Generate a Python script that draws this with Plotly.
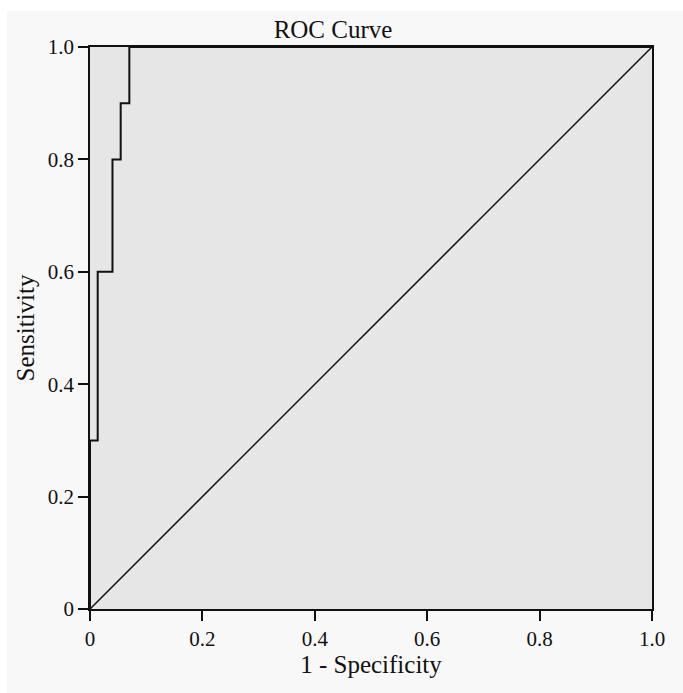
import plotly.graph_objects as go

# ROC curve data (1 - specificity, sensitivity)
fpr = [0.0, 0.0, 0.0137, 0.0137, 0.040, 0.040, 0.0546, 0.0546, 0.070, 0.070, 1.0]
tpr = [0.0, 0.3, 0.3, 0.6, 0.6, 0.8, 0.8, 0.9, 0.9, 1.0, 1.0]
ref_x = [0.0, 1.0]
ref_y = [0.0, 1.0]

x_tickvals = [0, 0.2, 0.4, 0.6, 0.8, 1.0]
x_ticktext = ["0", "0.2", "0.4", "0.6", "0.8", "1.0"]
y_tickvals = [0, 0.2, 0.4, 0.6, 0.8, 1.0]
y_ticktext = ["0", "0.2", "0.4", "0.6", "0.8", "1.0"]

FONT = "Liberation Serif"

fig = go.Figure()
fig.add_trace(go.Scatter(x=ref_x, y=ref_y, mode="lines",
                         line=dict(color="#111111", width=1.5),
                         showlegend=False, hoverinfo="skip"))
fig.add_trace(go.Scatter(x=fpr, y=tpr, mode="lines",
                         line=dict(color="#111111", width=2),
                         showlegend=False))

W, H = 683, 693
l, r, t, b = 90, 31, 47, 84
pw, ph = W - l - r, H - t - b

def px2x(px):
    return (px - l) / pw

def py2y(py):
    return (H - b - py) / ph

# white strips at top and left of the page (outside light-gray panel)
fig.add_shape(type="rect", xref="paper", yref="paper",
              x0=px2x(0), x1=px2x(W), y0=py2y(11), y1=py2y(0),
              fillcolor="white", line=dict(width=0), layer="below")
fig.add_shape(type="rect", xref="paper", yref="paper",
              x0=px2x(0), x1=px2x(7), y0=py2y(H), y1=py2y(0),
              fillcolor="white", line=dict(width=0), layer="below")

axis_common = dict(showgrid=False, zeroline=False, showline=True, mirror=True,
                   linecolor="#111111", linewidth=1.5, ticks="outside",
                   ticklen=10, tickwidth=1.5, tickcolor="#111111",
                   tickfont=dict(family=FONT, size=21, color="#111111"),
                   range=[0, 1], fixedrange=True)

fig.update_layout(
    width=W, height=H,
    margin=dict(l=l, r=r, t=t, b=b),
    paper_bgcolor="#f8f8f8",
    plot_bgcolor="#e6e6e6",
    title=dict(text="ROC Curve", x=333 / W, xanchor="center",
               y=1 - 29 / H, yanchor="middle",
               font=dict(family=FONT, size=25, color="#111111")),
    xaxis=dict(**axis_common, tickvals=x_tickvals, ticktext=x_ticktext,
               title=dict(text="1 - Specificity", standoff=6,
                          font=dict(family=FONT, size=25, color="#111111"))),
    yaxis=dict(**axis_common, tickvals=y_tickvals, ticktext=y_ticktext,
               title=dict(text="Sensitivity", standoff=6,
                          font=dict(family=FONT, size=25, color="#111111"))),
)

fig.write_html("out.html")
